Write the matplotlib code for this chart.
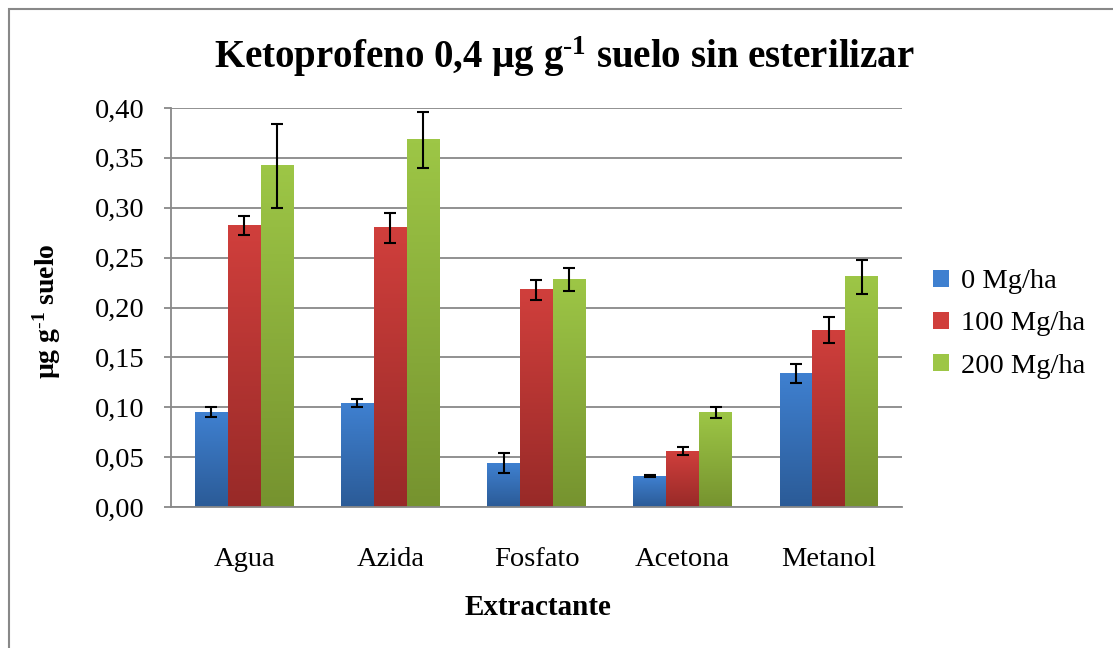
import numpy as np
import matplotlib
matplotlib.use("Agg")
import matplotlib.pyplot as plt
from matplotlib.colors import LinearSegmentedColormap
from matplotlib.patches import Rectangle

plt.rcParams['font.family'] = ['Liberation Serif', 'DejaVu Serif']
plt.rcParams['mathtext.fontset'] = 'custom'
plt.rcParams['mathtext.rm'] = 'Liberation Serif'
plt.rcParams['mathtext.bf'] = 'Liberation Serif:bold'
plt.rcParams['mathtext.default'] = 'bf'

categories = ["Agua", "Azida", "Fosfato", "Acetona", "Metanol"]
series = ["0 Mg/ha", "100 Mg/ha", "200 Mg/ha"]
vals_0 = [0.095, 0.104, 0.044, 0.031, 0.134]
vals_100 = [0.282, 0.280, 0.218, 0.056, 0.177]
vals_200 = [0.342, 0.368, 0.228, 0.095, 0.231]
err_0 = [0.005, 0.004, 0.010, 0.001, 0.0095]
err_100 = [0.0095, 0.015, 0.010, 0.004, 0.013]
err_200 = [0.042, 0.028, 0.0115, 0.0055, 0.017]

# top / bottom colours of the excel-like gradients
grad_cols = [("#3f80d0", "#2b5b97"), ("#d03f3c", "#982a28"), ("#9dc646", "#76932f")]

fig = plt.figure(figsize=(11.13, 6.48), dpi=100)
ax = fig.add_axes([0.1536, 0.2176, 0.6568, 0.6157])

x = np.arange(len(categories))
w = 0.225
all_vals = [vals_0, vals_100, vals_200]
all_errs = [err_0, err_100, err_200]
handles = []
for i, (v, e) in enumerate(zip(all_vals, all_errs)):
    pos = x + (i - 1) * w
    top, bot = grad_cols[i]
    cmap = LinearSegmentedColormap.from_list("g%d" % i, [bot, top])
    bars = ax.bar(pos, v, w, color=top, zorder=2, label=series[i])
    for b in bars:
        x0 = b.get_x()
        h = b.get_height()
        grad = np.linspace(0, 1, 100).reshape(-1, 1)
        ax.imshow(grad, extent=[x0, x0 + w, 0, h], origin="lower", aspect="auto",
                  cmap=cmap, zorder=2.5)
    ax.errorbar(pos, v, yerr=e, fmt="none", ecolor="black", elinewidth=1.5,
                capsize=4.5, capthick=1.5, zorder=3)
    handles.append(Rectangle((0, 0), 1, 1, facecolor=top, edgecolor="none"))

ax.set_xlim(-0.5, 4.5)
ax.set_ylim(0, 0.40)
ticks = np.arange(0, 0.401, 0.05)
ax.set_yticks(ticks)
ax.set_yticklabels([("%.2f" % t).replace(".", ",") for t in ticks])
ax.set_xticks(x)
ax.set_xticklabels(categories)
ax.tick_params(axis="x", length=0, pad=29, labelsize=20.5)
ax.tick_params(axis="y", length=5, width=1.3, color="#888888", pad=14, labelsize=20.5)
ax.grid(axis="y", color="#888888", linewidth=1.3)
ax.set_axisbelow(True)
for s in ["top", "right"]:
    ax.spines[s].set_visible(False)
ax.spines["left"].set_color("#888888")
ax.spines["left"].set_linewidth(1.3)
ax.spines["bottom"].set_color("#888888")
ax.spines["bottom"].set_linewidth(1.3)

fig.text(0.507, 0.912, r"Ketoprofeno 0,4 µg g$^{\text{-}1}$ suelo sin esterilizar",
         ha="center", va="center", fontsize=28, fontweight="bold")
fig.text(0.483, 0.063, "Extractante", ha="center", va="center",
         fontsize=21, fontweight="bold")
fig.text(0.042, 0.52, r"µg g$^{\text{-}1}$ suelo", ha="center", va="center",
         rotation=90, fontsize=20, fontweight="bold")

fig.legend(handles, series, loc="center left", bbox_to_anchor=(0.828, 0.5),
           frameon=False, fontsize=20.5, handlelength=0.55, handleheight=0.55,
           handletextpad=0.45, labelspacing=0.6, borderaxespad=0)

fig.patches.append(Rectangle((0.008, -0.1), 1.2, 1.086, transform=fig.transFigure,
                             fill=False, edgecolor="#888888", linewidth=1.5))

fig.savefig("out.png", dpi=100)
